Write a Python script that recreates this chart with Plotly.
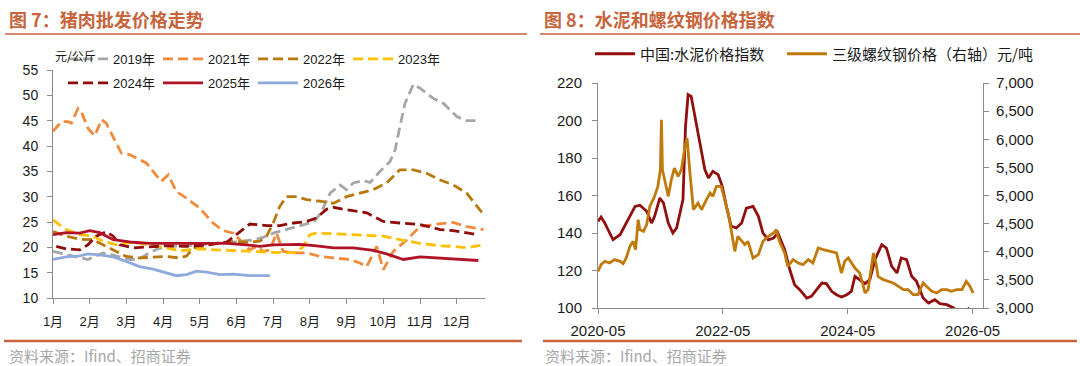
import plotly.graph_objects as go

W, H = 1080, 366

# ---------------- Left chart: pork wholesale price (元/公斤), x = month of year ----------------
months_tick = list(range(1, 13))
months_text = [f"{m}月" for m in months_tick]

m2019 = [1.0, 1.3, 1.6, 1.95, 2.15, 2.35, 2.6, 2.9, 3.1, 3.35, 3.6, 3.85, 4.2, 4.6, 5.0, 5.5, 6.0, 6.4, 6.7, 7.0,
         7.4, 7.8, 8.1, 8.3, 8.55, 8.82, 9.0, 9.18, 9.45, 9.64, 9.91, 10.18, 10.32, 10.45, 10.59, 10.82, 11.0,
         11.36, 11.64, 12.0, 12.27, 12.59]
v2019 = [19.2, 18.7, 18.2, 17.6, 18.2, 18.9, 18.5, 18.0, 17.6, 17.7, 18.8, 19.7, 20.2, 20.3, 20.5, 20.8, 21.1,
         21.4, 21.9, 22.8, 23.6, 24.3, 25.0, 26.8, 30.7, 32.3, 31.4, 32.7, 33.2, 32.8, 35.0, 36.9, 39.2, 43.8, 48.4,
         52.2, 51.4, 49.4, 48.4, 45.8, 45.0, 45.0]

m2021 = [1.0, 1.23, 1.41, 1.5, 1.68, 1.77, 1.95, 2.14, 2.32, 2.45, 2.68, 2.86, 3.09, 3.36, 3.55, 3.77, 3.95, 4.14,
         4.36, 4.64, 5.0, 5.36, 5.64, 5.91, 6.09, 6.36, 6.55, 6.73, 6.91, 7.09, 7.27, 7.55, 7.91, 8.27, 8.64, 9.09,
         9.36, 9.55, 9.82, 10.0, 10.27, 10.64, 11.0, 11.36, 11.9, 12.27, 12.73]
v2021 = [42.9, 44.8, 44.8, 44.5, 47.4, 46.8, 43.5, 42.0, 45.2, 44.5, 41.2, 38.6, 38.3, 37.3, 36.6, 34.6, 33.0, 34.3,
         31.0, 29.7, 27.7, 24.8, 23.3, 22.8, 21.5, 19.5, 20.2, 19.2, 19.5, 22.8, 19.2, 18.9, 18.9, 18.2, 17.9, 17.6,
         16.9, 16.2, 20.2, 15.6, 19.2, 21.5, 24.1, 24.5, 24.9, 24.1, 23.5]

m2022 = [1.0, 1.36, 1.73, 2.09, 2.36, 2.64, 3.0, 3.36, 3.73, 4.09, 4.45, 4.64, 4.82, 5.09, 5.45, 5.91, 6.27, 6.64,
         6.82, 7.0, 7.18, 7.36, 7.64, 7.91, 8.27, 8.64, 9.0, 9.36, 9.73, 10.09, 10.45, 10.82, 11.18, 11.55, 11.91,
         12.27, 12.55, 12.77]
v2022 = [23.1, 22.2, 21.6, 21.5, 20.5, 19.5, 18.2, 17.9, 18.1, 18.2, 17.9, 18.3, 19.9, 20.2, 20.8, 21.2, 21.0, 21.2,
         22.2, 24.8, 28.1, 30.0, 30.0, 29.4, 29.1, 28.7, 30.0, 30.7, 31.4, 32.7, 35.3, 35.3, 34.6, 33.3, 32.3, 30.7,
         28.1, 26.1]

m2023 = [1.0, 1.36, 1.73, 2.09, 2.36, 2.73, 3.18, 3.64, 4.09, 4.45, 5.0, 5.45, 5.91, 6.45, 7.0, 7.36, 7.64, 7.82,
         8.0, 8.18, 8.64, 9.09, 9.55, 10.0, 10.45, 11.0, 11.55, 11.9, 12.27, 12.73]
v2023 = [25.4, 23.5, 22.5, 22.2, 21.2, 20.5, 21.0, 20.5, 19.9, 19.3, 19.7, 19.5, 19.3, 19.2, 19.0, 18.9, 19.0, 20.2,
         22.5, 22.8, 22.7, 22.5, 22.3, 22.2, 21.5, 20.8, 20.3, 20.2, 19.9, 20.5]

m2024 = [1.09, 1.36, 1.73, 1.95, 2.18, 2.45, 2.64, 2.82, 3.18, 3.64, 4.09, 4.64, 5.18, 5.73, 6.09, 6.36, 6.82, 7.18,
         7.55, 7.91, 8.18, 8.45, 8.64, 9.0, 9.55, 10.0, 10.45, 11.0, 11.55, 11.9, 12.5]
v2024 = [20.2, 19.7, 19.5, 20.5, 22.2, 23.1, 22.2, 20.5, 19.9, 20.1, 20.3, 20.2, 20.5, 21.0, 23.1, 24.6, 24.3, 24.3,
         24.8, 25.1, 25.8, 27.5, 27.9, 27.4, 26.8, 25.1, 24.8, 24.5, 23.5, 23.3, 22.6]

m2025 = [1.0, 1.36, 1.73, 2.0, 2.27, 2.64, 3.18, 3.64, 4.09, 4.64, 5.18, 5.73, 6.27, 6.64, 7.0, 7.36, 7.73, 8.18,
         8.64, 9.18, 9.73, 10.09, 10.55, 11.0, 11.55, 12.09, 12.59]
v2025 = [22.5, 22.9, 22.8, 23.3, 22.9, 21.5, 21.0, 20.8, 20.8, 20.8, 20.7, 20.8, 20.5, 20.2, 20.5, 20.6, 20.6, 20.3,
         19.9, 19.9, 19.4, 18.7, 17.6, 18.1, 17.9, 17.6, 17.4]

m2026 = [1.0, 1.36, 1.73, 1.95, 2.27, 2.64, 3.0, 3.36, 3.73, 4.09, 4.36, 4.64, 4.91, 5.18, 5.55, 5.91, 6.36, 6.91]
v2026 = [17.6, 18.1, 18.3, 18.7, 18.5, 18.1, 17.2, 16.2, 15.7, 14.9, 14.4, 14.6, 15.3, 15.1, 14.6, 14.7, 14.4, 14.4]

# ---------------- Right chart: cement index & rebar price ----------------
cement_dates = ["2020-05-01", "2020-05-19", "2020-06-10", "2020-07-07", "2020-07-28", "2020-09-07", "2020-10-04",
                "2020-11-04", "2020-12-04", "2021-01-01", "2021-02-10", "2021-03-10", "2021-03-28", "2021-04-28",
                "2021-05-19", "2021-06-16", "2021-07-13", "2021-08-04", "2021-08-22", "2021-09-10", "2021-09-25",
                "2021-10-10", "2021-10-28", "2021-11-28", "2021-12-19", "2022-01-16", "2022-02-06", "2022-03-04",
                "2022-04-04", "2022-04-28", "2022-05-22", "2022-06-19", "2022-07-19", "2022-08-19", "2022-09-16",
                "2022-10-25", "2022-11-25", "2022-12-22", "2023-01-22", "2023-02-22", "2023-03-19", "2023-04-28",
                "2023-05-28", "2023-06-25", "2023-07-25", "2023-09-04", "2023-10-01", "2023-11-01", "2023-12-01",
                "2023-12-28", "2024-01-28", "2024-02-25", "2024-03-25", "2024-04-25", "2024-05-22", "2024-06-12",
                "2024-07-10", "2024-08-10", "2024-09-07", "2024-10-07", "2024-11-16", "2024-12-13", "2025-01-13",
                "2025-02-13", "2025-03-10", "2025-04-10", "2025-05-10", "2025-06-07", "2025-07-16", "2025-08-16",
                "2025-09-22", "2025-10-22", "2025-12-01", "2026-01-10", "2026-02-10", "2026-03-16", "2026-04-07",
                "2026-05-01"]
cement_vals = [146.2, 148.5, 145.3, 140.0, 136.4, 139.1, 143.6, 148.9, 154.2, 154.8, 151.6, 145.3, 148.9, 158.7,
               156.0, 145.3, 140.0, 142.7, 149.8, 157.8, 196.9, 213.8, 212.9, 196.9, 186.2, 173.8, 169.3, 172.9,
               171.1, 164.9, 154.2, 143.6, 142.7, 145.3, 153.3, 154.2, 148.9, 140.0, 136.4, 137.3, 140.0, 131.1,
               120.4, 112.4, 109.8, 105.3, 106.2, 109.8, 113.3, 113.0, 108.9, 107.1, 105.9, 107.1, 108.9, 116.9,
               115.1, 113.0, 115.1, 125.8, 133.8, 132.0, 122.2, 118.7, 126.7, 125.8, 116.9, 114.2, 105.3, 102.7,
               104.4, 102.3, 101.8, 100.0, 97.0, 96.5, 99.5, 97.0]

steel_dates = ["2020-05-01", "2020-05-19", "2020-06-10", "2020-07-07", "2020-08-07", "2020-09-07", "2020-09-25",
               "2020-10-13", "2020-11-04", "2020-11-22", "2020-12-07", "2020-12-22", "2021-01-01", "2021-01-22",
               "2021-02-10", "2021-02-28", "2021-03-28", "2021-04-16", "2021-05-01", "2021-05-07", "2021-05-13",
               "2021-05-25", "2021-06-16", "2021-07-04", "2021-07-22", "2021-08-13", "2021-09-01", "2021-09-22",
               "2021-10-04", "2021-10-19", "2021-11-10", "2021-12-07", "2021-12-28", "2022-01-25", "2022-02-16",
               "2022-03-04", "2022-03-25", "2022-04-22", "2022-05-13", "2022-06-01", "2022-06-19", "2022-07-10",
               "2022-07-28", "2022-08-19", "2022-09-07", "2022-09-25", "2022-10-25", "2022-11-25", "2022-12-22",
               "2023-01-22", "2023-02-22", "2023-03-10", "2023-03-28", "2023-04-28", "2023-05-16", "2023-06-16",
               "2023-07-16", "2023-08-13", "2023-09-13", "2023-10-10", "2023-11-10", "2023-12-10", "2024-01-19",
               "2024-02-25", "2024-03-25", "2024-04-13", "2024-05-04", "2024-05-22", "2024-06-12", "2024-07-10",
               "2024-08-10", "2024-08-28", "2024-09-19", "2024-09-28", "2024-10-13", "2024-10-25", "2024-11-25",
               "2024-12-25", "2025-01-22", "2025-02-22", "2025-03-22", "2025-04-19", "2025-05-19", "2025-06-16",
               "2025-07-16", "2025-08-04", "2025-09-04", "2025-10-04", "2025-11-01", "2025-12-01", "2025-12-28",
               "2026-01-28", "2026-02-28", "2026-03-25", "2026-04-16", "2026-05-04"]
steel_vals = [3652, 3770, 3830, 3800, 3860, 3830, 3790, 3890, 4096, 4185, 4037, 4570, 4393, 4363, 4481, 4807, 4985,
              5163, 5459, 6348, 5459, 5281, 4985, 5281, 5489, 5341, 5459, 5874, 6022, 5459, 4748, 4867, 4748, 4926,
              5044, 4985, 5163, 5163, 4926, 4689, 4393, 4007, 4274, 4185, 4126, 4185, 3889, 3948, 4185, 4274, 4333,
              4393, 4185, 3978, 3741, 3859, 3800, 3770, 3859, 3800, 4067, 4037, 4007, 3978, 3622, 3830, 3889, 3800,
              3711, 3622, 3267, 3326, 3741, 3978, 3800, 3563, 3504, 3474, 3444, 3385, 3326, 3326, 3237, 3237, 3444,
              3385, 3296, 3267, 3326, 3326, 3296, 3326, 3326, 3474, 3385, 3267]

ACCENT = "#C8643C"
AXIS = "#8C8C8C"
TXT = "#1a1a1a"
FONT = "Arial, Liberation Sans, Noto Sans CJK SC"
CJK = "Noto Sans CJK SC"

fig = go.Figure()

left_series = [
    ("2019年", m2019, v2019, "#A6A6A6", "10px,5px", "legend"),
    ("2021年", m2021, v2021, "#F28A3C", "10px,5px", "legend"),
    ("2022年", m2022, v2022, "#B8790F", "10px,5px", "legend"),
    ("2023年", m2023, v2023, "#FFC000", "10px,5px", "legend"),
    ("2024年", m2024, v2024, "#8E0C0C", "10px,5px", "legend2"),
    ("2025年", m2025, v2025, "#B11226", "solid", "legend2"),
    ("2026年", m2026, v2026, "#8EA9DB", "solid", "legend2"),
]
for name, xs, ys, col, dash, lg in left_series:
    fig.add_trace(go.Scatter(x=xs, y=ys, name=name, mode="lines", xaxis="x", yaxis="y",
                             line=dict(color=col, width=2.8, dash=dash), legend=lg))

fig.add_trace(go.Scatter(x=cement_dates, y=cement_vals, name="中国:水泥价格指数", mode="lines",
                         xaxis="x2", yaxis="y2", line=dict(color="#920F0F", width=2.8), legend="legend3"))
fig.add_trace(go.Scatter(x=steel_dates, y=steel_vals, name="三级螺纹钢价格（右轴）元/吨", mode="lines",
                         xaxis="x2", yaxis="y3", line=dict(color="#C07A0A", width=2.8), legend="legend4"))

def px_x(p):
    return p / W

def px_y(p):
    return 1 - p / H

def axis_style(size):
    return dict(showline=True, linecolor=AXIS, linewidth=1, ticks="outside", ticklen=5, tickcolor=AXIS,
                showgrid=False, zeroline=False, tickfont=dict(family=FONT, size=size, color=TXT))

leg_common = dict(orientation="h", bgcolor="rgba(0,0,0,0)", font=dict(family=FONT, size=13, color=TXT),
                  entrywidthmode="pixels", itemwidth=40, xanchor="left", yanchor="middle",
                  tracegroupgap=0, itemclick=False, borderwidth=0)
leg_cjk = {**leg_common, "font": dict(family=CJK, size=15, color=TXT)}

fig.update_layout(
    width=W, height=H, margin=dict(l=0, r=0, t=0, b=0, autoexpand=False),
    paper_bgcolor="white", plot_bgcolor="white",
    xaxis=dict(domain=[px_x(53), px_x(485)], range=[1, 12.77], tickvals=months_tick, ticktext=months_text,
               anchor="y", ticklabelstandoff=6, **axis_style(13)),
    yaxis=dict(domain=[px_y(298), px_y(70)], range=[10, 55], dtick=5, anchor="x", ticklabelstandoff=6,
               **axis_style(14)),
    xaxis2=dict(domain=[px_x(598), px_x(983)], type="date", range=["2020-05-01", "2026-07-01"],
                tick0="2020-05-01", dtick="M24", tickformat="%Y-%m", anchor="y2", ticklabelstandoff=4,
                **axis_style(15)),
    yaxis2=dict(domain=[px_y(308), px_y(83)], range=[100, 220], dtick=20, anchor="x2", ticklabelstandoff=7,
                **axis_style(15)),
    yaxis3=dict(overlaying="y2", side="right", range=[3000, 7000], dtick=500, tickformat=",", anchor="x2",
                ticklabelstandoff=4, **axis_style(15)),
    legend=dict(x=px_x(63), y=px_y(59), entrywidth=40, **leg_common),
    legend2=dict(x=px_x(63), y=px_y(83), entrywidth=40, **leg_common),
    legend3=dict(x=px_x(590), y=px_y(54), **leg_cjk),
    legend4=dict(x=px_x(782), y=px_y(54), **leg_cjk),
    showlegend=True,
)

shapes = [
    dict(type="line", xref="paper", yref="paper", x0=px_x(5), x1=px_x(527), y0=px_y(34), y1=px_y(34),
         line=dict(color=ACCENT, width=1.5)),
    dict(type="line", xref="paper", yref="paper", x0=px_x(540), x1=px_x(1080), y0=px_y(34), y1=px_y(34),
         line=dict(color=ACCENT, width=1.5)),
    dict(type="line", xref="paper", yref="paper", x0=px_x(4), x1=px_x(522), y0=px_y(341), y1=px_y(341),
         line=dict(color=ACCENT, width=2.5)),
    dict(type="line", xref="paper", yref="paper", x0=px_x(543), x1=px_x(1077), y0=px_y(341), y1=px_y(341),
         line=dict(color=ACCENT, width=2.5)),
]
fig.update_layout(shapes=shapes)

ann = [
    dict(text="<b>图 7：猪肉批发价格走势</b>", x=px_x(7), y=px_y(19), xanchor="left", yanchor="middle",
         font=dict(family=CJK, size=18, color=ACCENT)),
    dict(text="<b>图 8：水泥和螺纹钢价格指数</b>", x=px_x(542), y=px_y(19), xanchor="left", yanchor="middle",
         font=dict(family=CJK, size=18, color=ACCENT)),
    dict(text="元/公斤", x=px_x(53), y=px_y(55), xanchor="left", yanchor="middle",
         font=dict(family=CJK, size=12, color=TXT)),
    dict(text="资料来源：Ifind、招商证券", x=px_x(7), y=px_y(355), xanchor="left", yanchor="middle",
         font=dict(family=CJK, size=15, color="#A6A6A6")),
    dict(text="资料来源：Ifind、招商证券", x=px_x(543), y=px_y(355), xanchor="left", yanchor="middle",
         font=dict(family=CJK, size=15, color="#A6A6A6")),
]
for a in ann:
    a.update(xref="paper", yref="paper", showarrow=False)
fig.update_layout(annotations=ann)

fig.write_html("out.html")
